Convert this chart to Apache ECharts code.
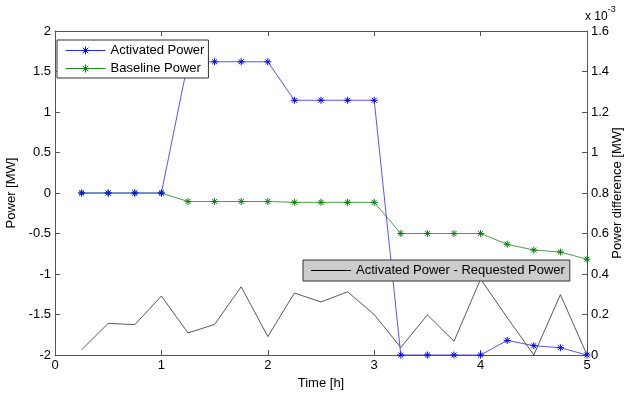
<!DOCTYPE html>
<html lang="en">
<head>
    <meta charset="UTF-8">
    <title>power chart</title>
    <script type="text/javascript" src="https://cdn.jsdelivr.net/npm/echarts@6/dist/echarts.min.js"></script>
    <style>
        html, body { margin: 0; padding: 0; background: #fff; }
    </style>
</head>
<body>
    <div id="main" style="width: 626px; height: 394px;"></div>
    <script type="text/javascript">
        // time steps [h]
        var times = [0.25, 0.5, 0.75, 1, 1.25, 1.5, 1.75, 2, 2.25, 2.5, 2.75, 3, 3.25, 3.5, 3.75, 4, 4.25, 4.5, 4.75, 5];
        // power [MW]
        var activated = [0, 0, 0, 0, 1.62, 1.62, 1.62, 1.62, 1.145, 1.145, 1.145, 1.145, -2, -2, -2, -2, -1.82, -1.885, -1.91, -2];
        var baseline = [0, 0, 0, 0, -0.105, -0.105, -0.105, -0.105, -0.115, -0.115, -0.115, -0.115, -0.5, -0.5, -0.5, -0.5, -0.633, -0.704, -0.729, -0.817];
        // power difference [MW] (x 10^-3)
        var diff = [0.026, 0.156, 0.150, 0.291, 0.109, 0.151, 0.337, 0.091, 0.306, 0.262, 0.312, 0.200, 0.037, 0.198, 0.068, 0.375, 0.185, 0.0, 0.298, 0.0];

        function pairs(xs, ys) {
            var out = [];
            for (var i = 0; i < xs.length; i++) {
                out.push([xs[i], ys[i]]);
            }
            return out;
        }

        var star = 'path://M5 0 L5 10 M0 5 L10 5 M1.5 1.5 L8.5 8.5 M8.5 1.5 L1.5 8.5';
        var font = 'Liberation Sans';
        var axisCol = '#555';

        var myChart = echarts.init(document.getElementById('main'));

        myChart.setOption({
            animation: false,
            textStyle: { fontFamily: font },
            grid: { left: 55, right: 39, top: 31, bottom: 39, outerBoundsMode: 'none', containLabel: false },
            legend: [{
                data: ['Activated Power', 'Baseline Power'],
                orient: 'vertical',
                left: 57,
                top: 40,
                padding: [4, 4, 3, 8],
                itemWidth: 40,
                itemHeight: 10,
                itemGap: 5,
                backgroundColor: '#fff',
                borderColor: '#333',
                borderWidth: 1,
                itemStyle: { borderWidth: 1 },
                lineStyle: { width: 1 },
                textStyle: { fontFamily: font, fontSize: 13, color: '#000' }
            }, {
                data: [{ name: 'Activated Power - Requested Power', icon: 'rect' }],
                left: 303,
                top: 260,
                padding: [4, 5, 4, 8],
                itemWidth: 40,
                itemHeight: 1,
                itemStyle: { color: '#000' },
                backgroundColor: '#cccccc',
                borderColor: '#333',
                borderWidth: 1,
                textStyle: { fontFamily: font, fontSize: 13, color: '#000' }
            }],
            xAxis: [{
                type: 'value',
                min: 0,
                max: 5,
                interval: 1,
                name: 'Time [h]',
                nameLocation: 'middle',
                nameGap: 22,
                nameTextStyle: { fontSize: 13, color: '#000' },
                axisLine: { onZero: false, lineStyle: { color: axisCol } },
                axisTick: { inside: true, length: 5, lineStyle: { color: axisCol } },
                axisLabel: { fontSize: 13, color: '#000', margin: 4 },
                splitLine: { show: false }
            }, {
                type: 'value',
                position: 'top',
                min: 0,
                max: 5,
                interval: 1,
                axisLine: { onZero: false, lineStyle: { color: axisCol } },
                axisTick: { inside: true, length: 5, lineStyle: { color: axisCol } },
                axisLabel: { show: false },
                splitLine: { show: false }
            }],
            yAxis: [{
                type: 'value',
                min: -2,
                max: 2,
                interval: 0.5,
                name: 'Power [MW]',
                nameLocation: 'middle',
                nameRotate: 90,
                nameGap: 36,
                nameTextStyle: { fontSize: 13, color: '#000' },
                axisLine: { show: true, onZero: false, lineStyle: { color: axisCol } },
                axisTick: { show: true, inside: true, length: 5, lineStyle: { color: axisCol } },
                axisLabel: { fontSize: 13, color: '#000', margin: 4 },
                splitLine: { show: false }
            }, {
                type: 'value',
                position: 'right',
                min: 0,
                max: 1.6,
                interval: 0.2,
                name: 'Power difference [MW]',
                nameLocation: 'middle',
                nameRotate: 90,
                nameGap: 24,
                nameMoveOverlap: false,
                nameTextStyle: { fontSize: 13, color: '#000' },
                axisLine: { show: true, onZero: false, lineStyle: { color: axisCol } },
                axisTick: { show: true, inside: true, length: 5, lineStyle: { color: axisCol } },
                axisLabel: {
                    fontSize: 13, color: '#000', margin: 4,
                    formatter: function (v) { return String(Math.round(v * 10) / 10); }
                },
                splitLine: { show: false }
            }],
            graphic: [{
                type: 'text',
                left: 585,
                top: 5,
                style: {
                    text: '{a|x 10}{b|-3}',
                    rich: {
                        a: { fontFamily: font, fontSize: 12, fill: '#000', padding: [6, 0, 0, 0] },
                        b: { fontFamily: font, fontSize: 9, fill: '#000', verticalAlign: 'top' }
                    }
                }
            }],
            series: [{
                name: 'Activated Power',
                type: 'line',
                xAxisIndex: 0,
                yAxisIndex: 0,
                data: pairs(times, activated),
                symbol: star,
                symbolSize: 7,
                itemStyle: { color: '#0000ff', borderColor: '#0000ff', borderWidth: 1 },
                lineStyle: { color: '#2a2aff', width: 0.8 },
                z: 3
            }, {
                name: 'Baseline Power',
                type: 'line',
                xAxisIndex: 0,
                yAxisIndex: 0,
                data: pairs(times, baseline),
                symbol: star,
                symbolSize: 7,
                itemStyle: { color: '#008000', borderColor: '#008000', borderWidth: 1 },
                lineStyle: { color: '#1a8a1a', width: 0.8 },
                z: 2
            }, {
                name: 'Activated Power - Requested Power',
                type: 'line',
                xAxisIndex: 0,
                yAxisIndex: 1,
                data: pairs(times, diff),
                symbol: 'none',
                itemStyle: { color: '#000' },
                lineStyle: { color: '#111', width: 0.7 },
                z: 1
            }]
        });
    </script>
</body>
</html>
